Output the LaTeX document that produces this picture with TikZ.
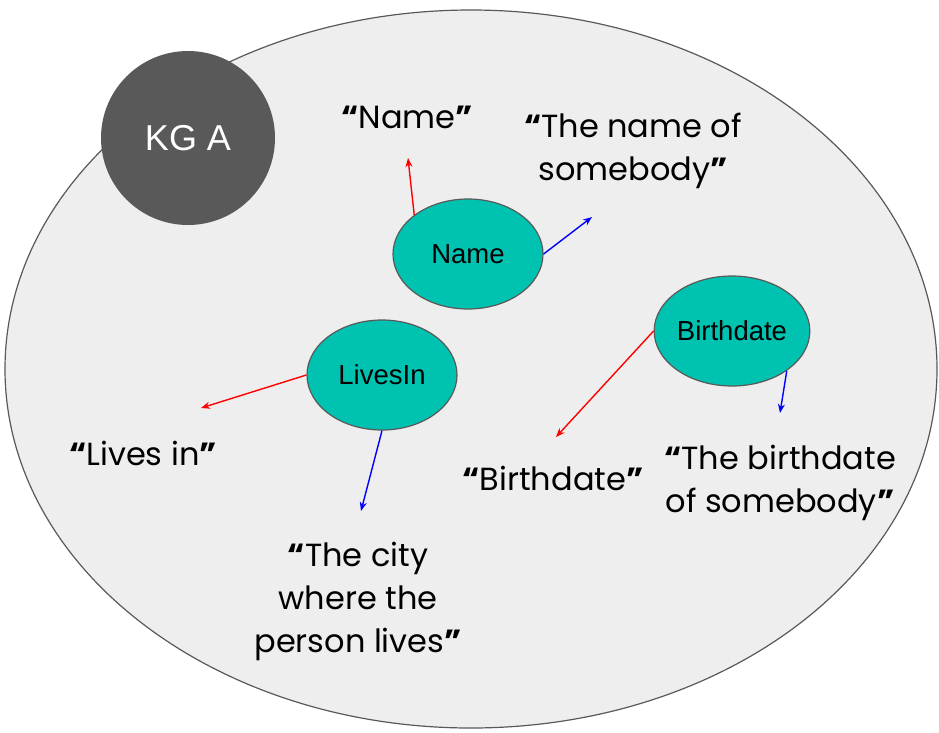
\documentclass[tikz,border=0pt]{standalone}
\usepackage{fontspec}
\setmainfont{Poppins}
\newfontfamily\arialfont{Liberation Sans}
\usetikzlibrary{shapes.geometric,arrows.meta}
\definecolor{kgfill}{HTML}{EEEEEE}
\definecolor{kgline}{HTML}{595959}
\definecolor{teal}{HTML}{00C2B1}
\newcommand{\oq}{{\bfseries “}}
\newcommand{\cq}{{\bfseries ”}}
\tikzset{
  prop/.style={ellipse, draw=kgline, line width=1.2pt, fill=teal,
    minimum width=150pt, minimum height=110pt, inner sep=0pt,
    font=\arialfont\fontsize{27.5}{30}\selectfont},
  quote/.style={align=center, inner sep=0pt,
    font=\fontsize{32}{43}\selectfont},
  labelarrow/.style={draw=red, line width=1.4pt, -{Stealth[length=9pt,width=7pt]}},
  commentarrow/.style={draw=blue, line width=1.4pt, -{Stealth[length=9pt,width=7pt]}}
}
\begin{document}
\begin{tikzpicture}[x=1pt,y=-1pt]
  \useasboundingbox (0,0) rectangle (939,732);
  % knowledge graph boundary
  \draw[kgline, line width=1.2pt, fill=kgfill] (471,369) ellipse [x radius=466pt, y radius=359pt];
  \node[circle, fill=kgline, minimum size=174pt, inner sep=0pt, text=white,
        font=\arialfont\fontsize{36}{40}\selectfont] (kg) at (188,138) {KG A};

  % properties
  \node[prop] (name) at (468,254) {Name};
  \node[prop] (livesin) at (382,375) {LivesIn};
  \node[prop] (birth) at (732,331) {Birthdate};

  % labels and comments
  \node[quote] (qname) at (407,117) {\oq Name\cq};
  \node[quote] (qnamec) at (633,151) {\oq The name of\\somebody\cq};
  \node[quote] (qlives) at (143,453) {\oq Lives in\cq};
  \node[quote] (qlivesc) at (358,601) {\oq The city\\where the\\person lives\cq};
  \node[quote] (qbirth) at (553,478) {\oq Birthdate\cq};
  \node[quote] (qbirthc) at (780,483) {\oq The birthdate\\of somebody\cq};

  % arrow tips
  \coordinate (t1) at (408,158);
  \coordinate (t2) at (592,217);
  \coordinate (t3) at (201,408);
  \coordinate (t4) at (361,511);
  \coordinate (t5) at (556,437);
  \coordinate (t6) at (780,413);

  \draw[labelarrow] (name.144) -- (t1);
  \draw[commentarrow] (name.east) -- (t2);
  \draw[labelarrow] (livesin.west) -- (t3);
  \draw[commentarrow] (livesin.south) -- (t4);
  \draw[labelarrow] (birth.west) -- (t5);
  \draw[commentarrow] (birth.-36) -- (t6);
\end{tikzpicture}
\end{document}
